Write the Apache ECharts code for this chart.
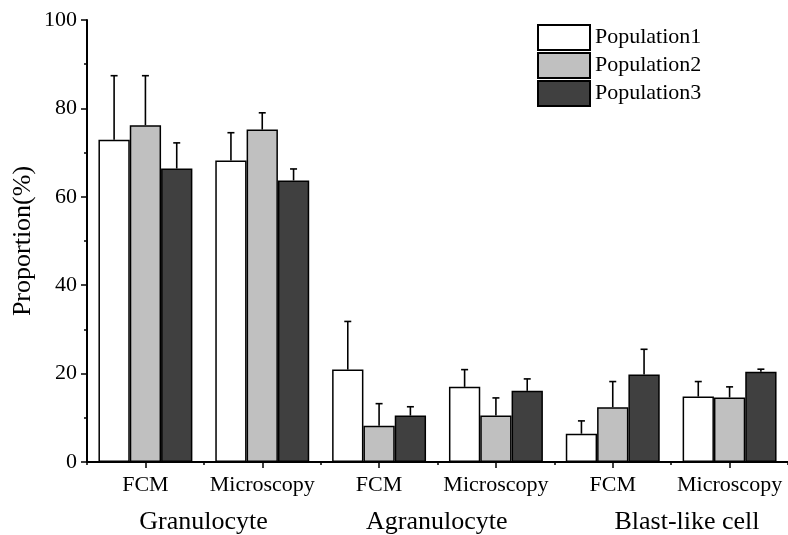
<!DOCTYPE html>
<html>
<head>
<meta charset="utf-8">
<script src="https://cdn.jsdelivr.net/npm/echarts@6/dist/echarts.min.js"></script>
<style>html,body{margin:0;padding:0;background:#fff;}#chart{width:788px;height:535px;}</style>
</head>
<body>
<div id="chart"></div>
<script>
const categories = ['FCM', 'Microscopy', 'FCM', 'Microscopy', 'FCM', 'Microscopy'];
const groupLabels = ['Granulocyte', 'Agranulocyte', 'Blast-like cell'];
const seriesNames = ['Population1', 'Population2', 'Population3'];
const pop1 = [72.9, 68.2, 20.9, 17.0, 6.4, 14.8];
const pop2 = [76.2, 75.2, 8.2, 10.5, 12.4, 14.6];
const pop3 = [66.4, 63.7, 10.5, 16.1, 19.8, 20.4];
const err1 = [14.5, 6.3, 10.9, 3.9, 2.9, 3.4];
const err2 = [11.2, 3.8, 5.0, 4.0, 5.8, 2.4];
const err3 = [5.8, 2.6, 2.0, 2.7, 5.7, 0.6];
const yTicks = [0, 20, 40, 60, 80, 100];

const means = [pop1, pop2, pop3];
const errs = [err1, err2, err3];
const colors = ['#ffffff', '#c0c0c0', '#404040'];
const FONT = 'Liberation Serif';
const GAP = 0.196;

const chart = echarts.init(document.getElementById('chart'), null, {renderer: 'canvas'});

const barSeries = seriesNames.map((n, i) => ({
  name: n,
  type: 'bar',
  data: means[i],
  barGap: '0%',
  barCategoryGap: (GAP * 100) + '%',
  itemStyle: {color: colors[i], borderColor: '#000', borderWidth: 1.5},
  emphasis: {disabled: true},
  z: 2
}));

const errSeries = seriesNames.map((n, i) => ({
  type: 'custom',
  name: n + '_err',
  data: means[i].map((m, k) => [k, m, m + errs[i][k]]),
  z: 5,
  silent: true,
  renderItem: function (params, api) {
    const ci = api.value(0);
    const base = api.coord([ci, api.value(1)]);
    const top = api.coord([ci, api.value(2)]);
    const catW = api.size([1, 0])[0];
    const bw = catW * (1 - GAP) / 3;
    const x = base[0] + (i - 1) * bw;
    const cap = 3.5;
    const st = {stroke: '#000', lineWidth: 1.6};
    return {
      type: 'group',
      children: [
        {type: 'line', shape: {x1: x, y1: base[1], x2: x, y2: top[1]}, style: st},
        {type: 'line', shape: {x1: x - cap, y1: top[1], x2: x + cap, y2: top[1]}, style: st}
      ]
    };
  }
}));

const option = {
  backgroundColor: '#fff',
  animation: false,
  textStyle: {fontFamily: FONT},
  grid: {left: 87, top: 20, width: 705, bottom: 73, containLabel: false},
  legend: {
    orient: 'vertical',
    left: 537,
    top: 24,
    padding: 0,
    itemWidth: 52,
    itemHeight: 25,
    itemGap: 1,
    icon: 'rect',
    data: seriesNames,
    textStyle: {fontFamily: FONT, fontSize: 22, color: '#000'},
    selectedMode: false
  },
  xAxis: [
    {
      type: 'category',
      data: categories,
      axisLine: {show: true, lineStyle: {color: '#000', width: 2}},
      axisTick: {show: true, alignWithLabel: true, interval: 0, length: 6, lineStyle: {color: '#000', width: 1.5}},
      axisLabel: {fontFamily: FONT, fontSize: 22, color: '#000', margin: 12, interval: 0},
      splitLine: {show: false}
    },
    {
      type: 'category',
      data: categories,
      position: 'bottom',
      axisLine: {show: false},
      axisTick: {show: true, interval: 0, length: 3, lineStyle: {color: '#000', width: 1.5}},
      axisLabel: {show: false},
      splitLine: {show: false}
    }
  ],
  yAxis: {
    type: 'value',
    min: yTicks[0],
    max: yTicks[yTicks.length - 1],
    interval: 20,
    name: 'Proportion(%)',
    nameLocation: 'middle',
    nameGap: 51,
    nameMoveOverlap: false,
    nameTextStyle: {fontFamily: FONT, fontSize: 26, color: '#000'},
    axisLine: {show: true, lineStyle: {color: '#000', width: 2}},
    axisTick: {show: true, length: 6, lineStyle: {color: '#000', width: 1.5}},
    minorTick: {show: true, splitNumber: 2, length: 3, lineStyle: {color: '#000', width: 1.5}},
    axisLabel: {fontFamily: FONT, fontSize: 22, color: '#000', margin: 10},
    splitLine: {show: false}
  },
  graphic: [
    {type: 'text', x: 203.5, y: 522, style: {text: groupLabels[0], font: '26px "Liberation Serif"', fill: '#000', textAlign: 'center', textVerticalAlign: 'middle'}},
    {type: 'text', x: 436.7, y: 522, style: {text: groupLabels[1], font: '26px "Liberation Serif"', fill: '#000', textAlign: 'center', textVerticalAlign: 'middle'}},
    {type: 'text', x: 687, y: 522, style: {text: groupLabels[2], font: '26px "Liberation Serif"', fill: '#000', textAlign: 'center', textVerticalAlign: 'middle'}}
  ],
  series: barSeries.concat(errSeries)
};
chart.setOption(option);
</script>
</body>
</html>
